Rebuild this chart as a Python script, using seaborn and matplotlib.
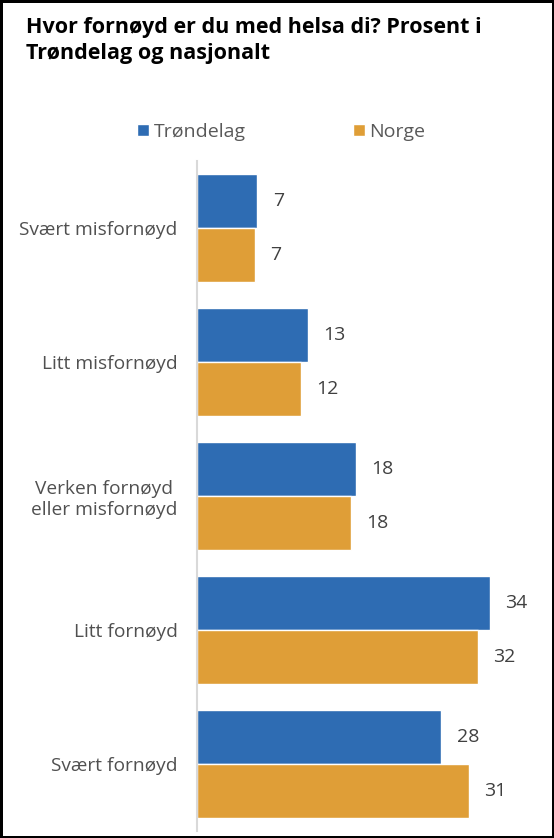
import pandas as pd
import matplotlib.pyplot as plt
import seaborn as sns

categories = ["Svært misfornøyd", "Litt misfornøyd", "Verken fornøyd\neller misfornøyd",
              "Litt fornøyd", "Svært fornøyd"]
# bar lengths; labels show rounded values
trondelag = [6.9, 12.7, 18.2, 33.5, 27.9]
norge = [6.6, 11.9, 17.6, 32.1, 31.1]
series = ["Trøndelag", "Norge"]
colors = ["#2E6CB3", "#DF9E37"]

title = "Hvor fornøyd er du med helsa di? Prosent i\nTrøndelag og nasjonalt"

if __name__ == "__main__":
    df = pd.DataFrame({
        "Kategori": categories * 2,
        "Prosent": trondelag + norge,
        "Område": [series[0]] * len(categories) + [series[1]] * len(categories),
    })

    sns.set_style("white")
    plt.rcParams['font.family'] = ['Open Sans', 'DejaVu Sans']

    fig = plt.figure(figsize=(5.54, 8.38), dpi=100, linewidth=2.5, edgecolor='black')
    ax = fig.add_axes([0.3556, 0.0084, 0.621, 0.7995])

    sns.barplot(data=df, y="Kategori", x="Prosent", hue="Område",
                palette=colors, width=0.8, orient="h", ax=ax, saturation=1)

    for c in ax.containers:
        ax.bar_label(c, fmt='%.0f', padding=11, fontsize=14, color="#404040")

    ax.set_xlim(0, 39.3)
    ax.set_ylim(4.5, -0.5)
    ax.set_xlabel('')
    ax.set_ylabel('')
    ax.set_xticks([])
    for s in ["top", "right", "bottom"]:
        ax.spines[s].set_visible(False)
    ax.spines["left"].set_color("#D9D9D9")
    ax.spines["left"].set_linewidth(1.5)
    ax.tick_params(axis='y', length=0, pad=14, labelsize=13.8, labelcolor="#505050")
    for lbl in ax.get_yticklabels():
        lbl.set_multialignment('center')

    sns.move_legend(ax, "center", bbox_to_anchor=(0.508, 0.843), bbox_transform=fig.transFigure,
                    ncol=2, frameon=False, title=None, fontsize=14,
                    handlelength=0.6, handleheight=0.6, handletextpad=0.25,
                    columnspacing=5.5, labelcolor="#595959")

    fig.text(0.047, 0.98, title, ha='left', va='top', fontsize=15.5,
             fontweight='bold', color='black', linespacing=1.35)

    fig.savefig("out.png", dpi=100)
